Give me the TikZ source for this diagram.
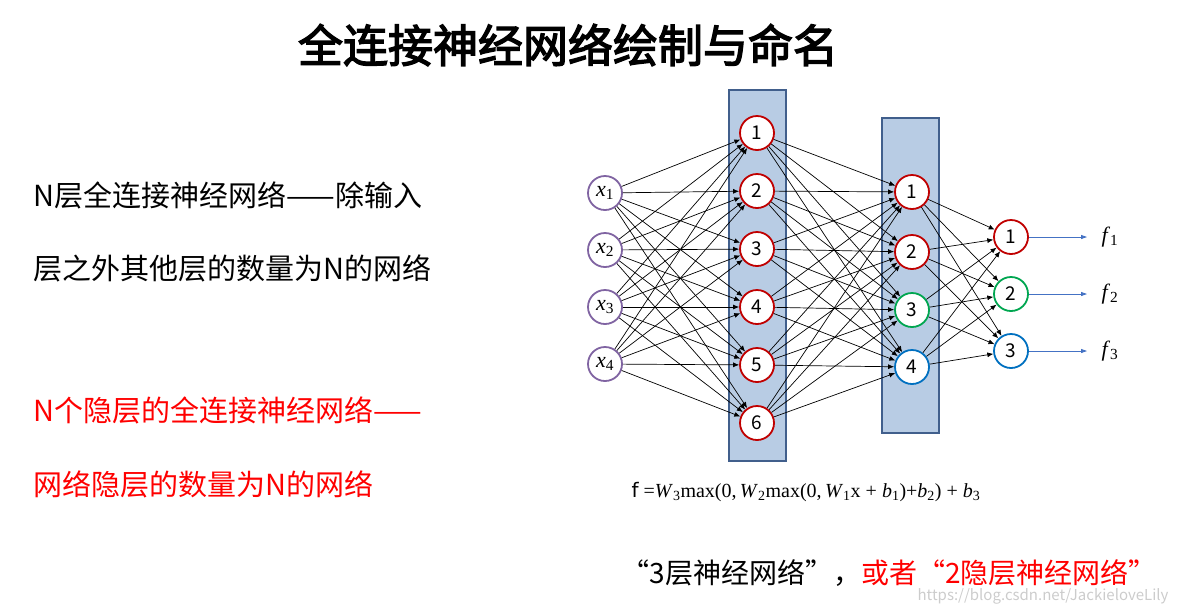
\documentclass[tikz,border=0pt]{standalone}
\usepackage{fontspec}
\setmainfont{Noto Sans CJK SC}
\newfontfamily\mf{Liberation Serif}
\newfontfamily\dsans{DejaVu Sans}
\usetikzlibrary{arrows.meta}
\newcommand{\mv}[2]{\textit{#1}\textsubscript{#2}}
\definecolor{pur}{RGB}{128,100,162}
\definecolor{dred}{RGB}{192,0,0}
\definecolor{grn}{RGB}{0,166,80}
\definecolor{blu}{RGB}{0,112,192}
\definecolor{boxf}{RGB}{184,204,228}
\definecolor{boxd}{RGB}{65,95,140}
\definecolor{arr}{RGB}{68,114,196}
\begin{document}
\begin{tikzpicture}[x=1pt,y=-1pt,
  neu/.style={circle,draw,line width=1.8pt,fill=white,minimum size=34pt,inner sep=0pt,font=\fontsize{19}{19}\selectfont},
  lay/.style={draw=boxd,line width=1.5pt,fill=boxf},
  ed/.style={line width=0.7pt,-{Latex[length=6pt,width=5pt]}},
  txt/.style={anchor=west,font=\fontsize{29}{29}\selectfont}]
\useasboundingbox (0,0) rectangle (1180,614);
\node[font=\fontsize{45}{45}\selectfont] (title) at (568,45) {\addfontfeatures{FakeBold=3}全连接神经网络绘制与命名};
\node[txt] (t1) at (30,195) {N层全连接神经网络——除输入};
\node[txt] (t2) at (30,268) {层之外其他层的数量为N的网络};
\node[txt,text=red] (t3) at (30,410) {N个隐层的全连接神经网络——};
\node[txt,text=red] (t4) at (30,484) {网络隐层的数量为N的网络};
\draw[lay] (729,90) rectangle (786,461);
\draw[lay] (882,118) rectangle (939,433);
\foreach \i/\y in {1/193,2/250,3/307,4/364}
  \node[neu,draw=pur,font=\fontsize{22}{22}\selectfont\mf] (x\i) at (605,\y) {\mv{x}{\i}};
\foreach \i/\y in {1/133,2/191,3/249,4/307,5/365,6/423}
  \node[neu,draw=dred] (h\i) at (757,\y) {\i};
\foreach \i/\y/\c in {1/192/dred,2/252/dred,3/310/grn,4/367/blu}
  \node[neu,draw=\c] (g\i) at (912,\y) {\i};
\foreach \i/\y/\c in {1/237/dred,2/294/grn,3/351/blu}
  \node[neu,draw=\c] (o\i) at (1011,\y) {\i};
\foreach \a in {1,...,4} \foreach \b in {1,...,6} \draw[ed] (x\a) -- (h\b);
\foreach \a in {1,...,6} \foreach \b in {1,...,4} \draw[ed] (h\a) -- (g\b);
\foreach \a in {1,...,4} \foreach \b in {1,...,3} \draw[ed] (g\a) -- (o\b);
\foreach \i/\y in {1/237,2/294,3/351}{
  \coordinate (e\i) at (1087,\y);
  \draw[arr,line width=0.8pt,-{Triangle[length=6pt,width=4pt]}] (o\i) -- (e\i);
  \node[font=\fontsize{22}{22}\selectfont\mf] (f\i) at (1110,\y) {\mv{f}{\i}};}
\node[anchor=west,font=\fontsize{20}{20}\selectfont\mf] (form) at (628,492) {{\dsans f} =\mv{W}{3}max(0,\,\mv{W}{2}max(0,\,\mv{W}{1}x + \mv{b}{1})+\mv{b}{2}) + \mv{b}{3}};
\node[anchor=west,font=\fontsize{28}{28}\selectfont] (bt) at (618,573) {“3层神经网络”，\textcolor{red}{或者“2隐层神经网络”}};
\node[anchor=east,text=black!20,font=\fontsize{15}{15}\selectfont] (wm) at (1172,596) {https://blog.csdn.net/JackieloveLily};
\end{tikzpicture}
\end{document}
